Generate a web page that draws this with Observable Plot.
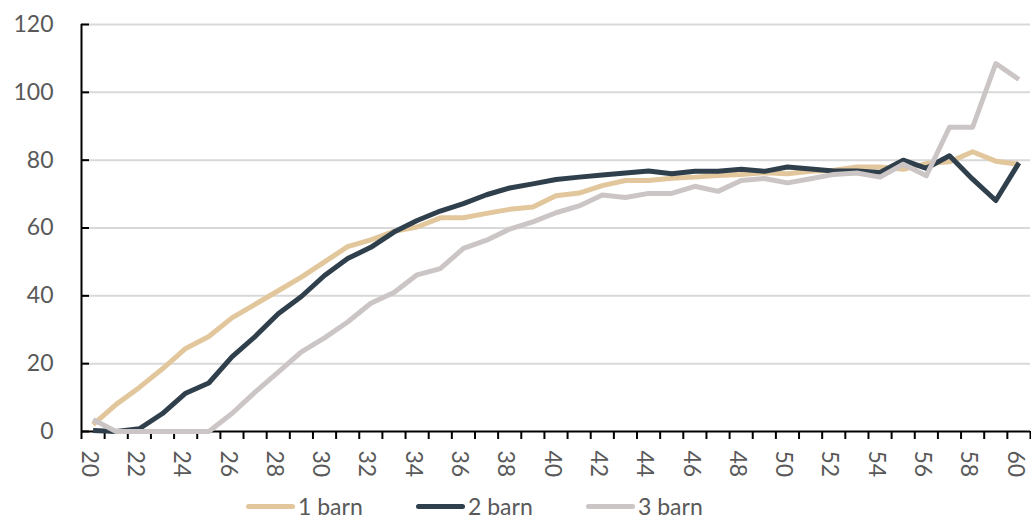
<!DOCTYPE html>
<html>
<head>
<meta charset="utf-8">
<script src="https://cdn.jsdelivr.net/npm/d3@7"></script>
<script src="https://cdn.jsdelivr.net/npm/@observablehq/plot@0.6"></script>
<style>
  html, body { margin: 0; padding: 0; background: #fff; }
  body { width: 1031px; height: 520px; overflow: hidden; font-family: Lato, sans-serif; }
  #chart svg { display: block; }
  .legend { position: relative; height: 28px; }
  .item { position: absolute; top: 0; height: 28px; display: flex; align-items: center; font-size: 23px; color: #595959; }
  .swatch { width: 49px; height: 5px; border-radius: 3px; margin-right: 3px; }
</style>
</head>
<body>
<div id="chart"></div>
<div class="legend" id="legend"></div>
<script>
const ages = [20,21,22,23,24,25,26,27,28,29,30,31,32,33,34,35,36,37,38,39,40,41,42,43,44,45,46,47,48,49,50,51,52,53,54,55,56,57,58,59,60];
const barn1 = [2,8,13,18.5,24.5,28,33.5,37.5,41.5,45.5,50,54.5,56.5,59,60.3,63,63,64.3,65.5,66.2,69.5,70.3,72.5,74,74,74.7,75,75.5,75.8,76.3,76,76.7,77,78,78,77.3,79,79.5,82.5,79.7,78.8];
const barn2 = [0.3,0,0.8,5.3,11.3,14.3,22,28,34.7,39.8,46,51,54.3,58.8,62.2,65,67.2,69.8,71.8,73,74.3,75,75.6,76.2,76.8,76,76.7,76.7,77.3,76.7,78,77.4,76.8,76.8,76.4,80,77.6,81.3,74.4,68.1,79.2];
const barn3 = [3.5,0,0,0,0,0,5.3,11.6,17.5,23.5,27.6,32.3,37.8,41,46.2,48,54,56.4,59.7,61.8,64.5,66.5,69.7,69,70.2,70.2,72.3,70.8,74,74.6,73.3,74.5,75.8,76.2,75,78.8,75.4,89.7,89.7,108.5,103.8];
const seriesNames = ["1 barn", "2 barn", "3 barn"];
const seriesColors = ["#e2c69c", "#2f3f4c", "#cbc5c5"];
const yTicks = [0,20,40,60,80,100,120];
const xLabelTicks = [20,22,24,26,28,30,32,34,36,38,40,42,44,46,48,50,52,54,56,58,60];

const rows = [];
[barn1, barn2, barn3].forEach((vals, s) => {
  vals.forEach((v, i) => rows.push({age: ages[i], value: v, series: seriesNames[s]}));
});
const boundaries = ages.map(a => a - 0.5).concat([ages[ages.length - 1] + 0.5]);
const xDomain = [boundaries[0], boundaries[boundaries.length - 1]];

const chart = Plot.plot({
  width: 1031,
  height: 492,
  marginLeft: 81,
  marginRight: 1,
  marginTop: 24,
  marginBottom: 61,
  style: {fontFamily: "Lato, sans-serif", background: "#fff"},
  x: {domain: xDomain, label: null},
  y: {domain: [0, 120], label: null},
  color: {domain: seriesNames, range: seriesColors},
  marks: [
    Plot.gridY(yTicks.filter(d => d > 0), {stroke: "#d9d9d9", strokeOpacity: 1, strokeWidth: 2}),
    Plot.axisY(yTicks, {tickSize: 0, tickPadding: 28, fontSize: 23, fill: "#595959", label: null}),
    Plot.axisY(yTicks, {tickSize: 8, dx: 8, tickFormat: () => "", stroke: "#000", strokeWidth: 2, strokeOpacity: 1, label: null}),
    Plot.axisX(boundaries, {tickSize: 8, tickFormat: () => "", stroke: "#000", strokeWidth: 2, strokeOpacity: 1, label: null}),
    Plot.axisX(xLabelTicks, {tickSize: 0, tickPadding: 19, tickRotate: 90, fontSize: 23, fill: "#595959", dx: -4, label: null}),
    Plot.ruleX([xDomain[0]], {y1: 0, y2: 120, stroke: "#000", strokeWidth: 2}),
    Plot.ruleY([0], {stroke: "#000", strokeWidth: 2}),
    Plot.line(rows, {x: "age", y: "value", z: "series", stroke: "series", strokeWidth: 5, strokeLinejoin: "round", strokeLinecap: "butt"})
  ]
});
document.getElementById("chart").appendChild(chart);

const legend = document.getElementById("legend");
const legendStarts = [246, 416, 586];
seriesNames.forEach((name, i) => {
  const item = document.createElement("div");
  item.className = "item";
  item.style.left = legendStarts[i] + "px";
  const sw = document.createElement("div");
  sw.className = "swatch";
  sw.style.background = seriesColors[i];
  const label = document.createElement("span");
  label.textContent = name;
  item.appendChild(sw);
  item.appendChild(label);
  legend.appendChild(item);
});
</script>
</body>
</html>
